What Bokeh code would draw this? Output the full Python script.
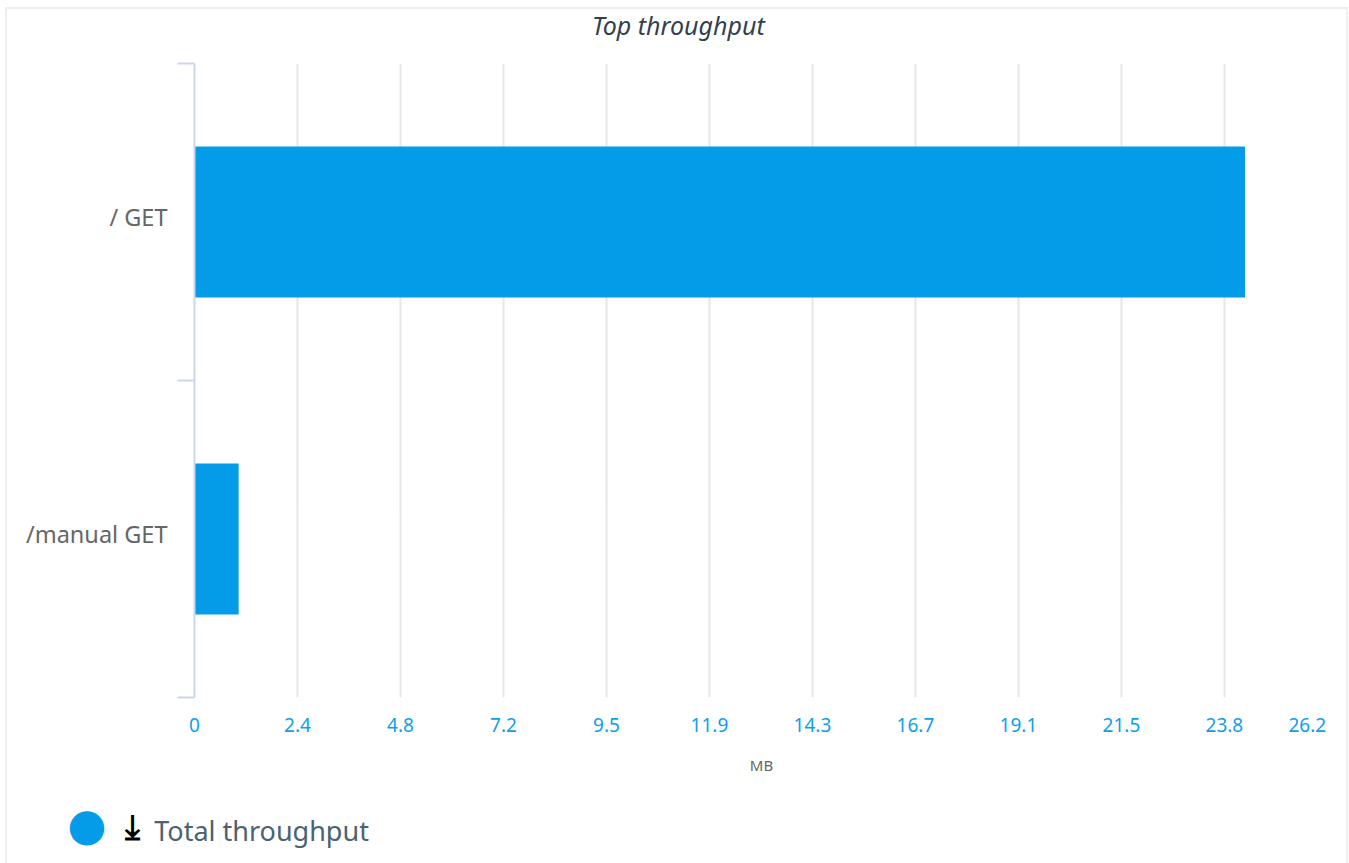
from bokeh.embed import file_html
from bokeh.resources import INLINE
from bokeh.plotting import figure
from bokeh.models import Range1d, FixedTicker, LinearAxis, ColumnDataSource

categories = ["/manual GET", "/ GET"]
throughput_mb = [1.02, 24.27]
grid_positions = [0, 2.3795, 4.759, 7.1385, 9.518, 11.8975, 14.277, 16.6565, 19.036, 21.4155, 23.795, 26.2]
tick_label_positions = [0, 2.3795, 4.759, 7.1385, 9.518, 11.8975, 14.277, 16.6565, 19.036, 21.4155, 23.795, 25.71]
tick_labels = ["0", "2.4", "4.8", "7.2", "9.5", "11.9", "14.3", "16.7", "19.1", "21.5", "23.8", "26.2"]
title_text = "Top throughput"
legend_text = "Total throughput"
FONT = "Noto Sans"
BLUE = "#049be8"
NBSP = "\u00a0"

band_centres = [i + 0.5 for i in range(len(categories))]
band_edges = list(range(len(categories) + 1))
label_positions = [c + 0.015 for c in band_centres]

p = figure(width=1349, height=863, output_backend="svg", toolbar_location=None,
           x_range=Range1d(0, 26.2), y_range=Range1d(0, len(categories)),
           x_axis_label="MB",
           min_border_left=194, min_border_right=21, min_border_top=63, min_border_bottom=166)
p.outline_line_color = None
p.background_fill_color = "white"
p.border_fill_color = "white"
p.stylesheets = [":host::after{content:'';position:absolute;left:5px;top:7px;right:1px;bottom:0;"
                 "border:2px solid #efefef;border-bottom:none;pointer-events:none;z-index:100}"]

# horizontal bars
src = ColumnDataSource(dict(pos=band_centres, val=throughput_mb))
bars = p.hbar(y="pos", left=0, right="val", height=0.476, source=src, color=BLUE, line_color=None)

# x axis
xa = p.xaxis[0]
xa.ticker = FixedTicker(ticks=tick_label_positions)
xa.major_label_overrides = dict(zip(tick_label_positions, tick_labels))
xa.axis_line_color = None
xa.major_tick_line_color = None
xa.minor_tick_line_color = None
xa.major_label_text_font = FONT
xa.major_label_text_font_size = "19px"
xa.major_label_text_color = "#0e9fe9"
xa.major_label_standoff = 14
xa.axis_label_text_font = FONT
xa.axis_label_text_font_size = "15px"
xa.axis_label_text_font_style = "normal"
xa.axis_label_text_color = "#666666"
xa.axis_label_standoff = 20

p.xgrid.ticker = FixedTicker(ticks=grid_positions)
p.xgrid.grid_line_color = "#e6e6e6"
p.xgrid.grid_line_width = 2
p.ygrid.grid_line_color = None

# y axis: labels at band centres, tick marks at the band edges
ya = p.yaxis[0]
ya.ticker = FixedTicker(ticks=label_positions, minor_ticks=band_edges)
ya.major_label_overrides = dict(zip(label_positions, categories))
ya.axis_line_color = "#ccd6eb"
ya.axis_line_width = 2
ya.major_tick_line_color = None
ya.major_tick_in = 0
ya.major_tick_out = 0
ya.minor_tick_line_color = "#ccd6eb"
ya.minor_tick_line_width = 2
ya.minor_tick_in = 0
ya.minor_tick_out = 17
ya.major_label_text_font = FONT
ya.major_label_text_font_size = "23.5px"
ya.major_label_text_color = "#666666"
ya.major_label_standoff = 10


def text_row(pos, text, font, size, color, standoff, style="normal"):
    """A line-less axis that carries one text in the margin of the plot."""
    return LinearAxis(ticker=FixedTicker(ticks=[pos]), major_label_overrides={pos: text},
                      axis_line_color=None, major_tick_line_color=None, minor_tick_line_color=None,
                      major_tick_in=0, major_tick_out=0,
                      major_label_text_font=font, major_label_text_font_size=size,
                      major_label_text_font_style=style,
                      major_label_text_color=color, major_label_standoff=standoff)


# title
p.add_layout(text_row(11.18, title_text, FONT, "25px", "#333f4d", 22, "italic"), "above")

# legend row: download icon, label and marker share one line under the x axis
p.add_layout(text_row(0.08, "\u2913" + NBSP * 11, "DejaVu Sans", "34px", "#000000", 28, "bold"), "below")
p.add_layout(text_row(1.549, legend_text, FONT, "27px", "#4a6272", -37), "below")
p.add_layout(text_row(0.16, "\u25cf" + NBSP * 16, "DejaVu Sans", "45px", BLUE, -54), "below")

open("out.html", "w").write(file_html(p, INLINE))
